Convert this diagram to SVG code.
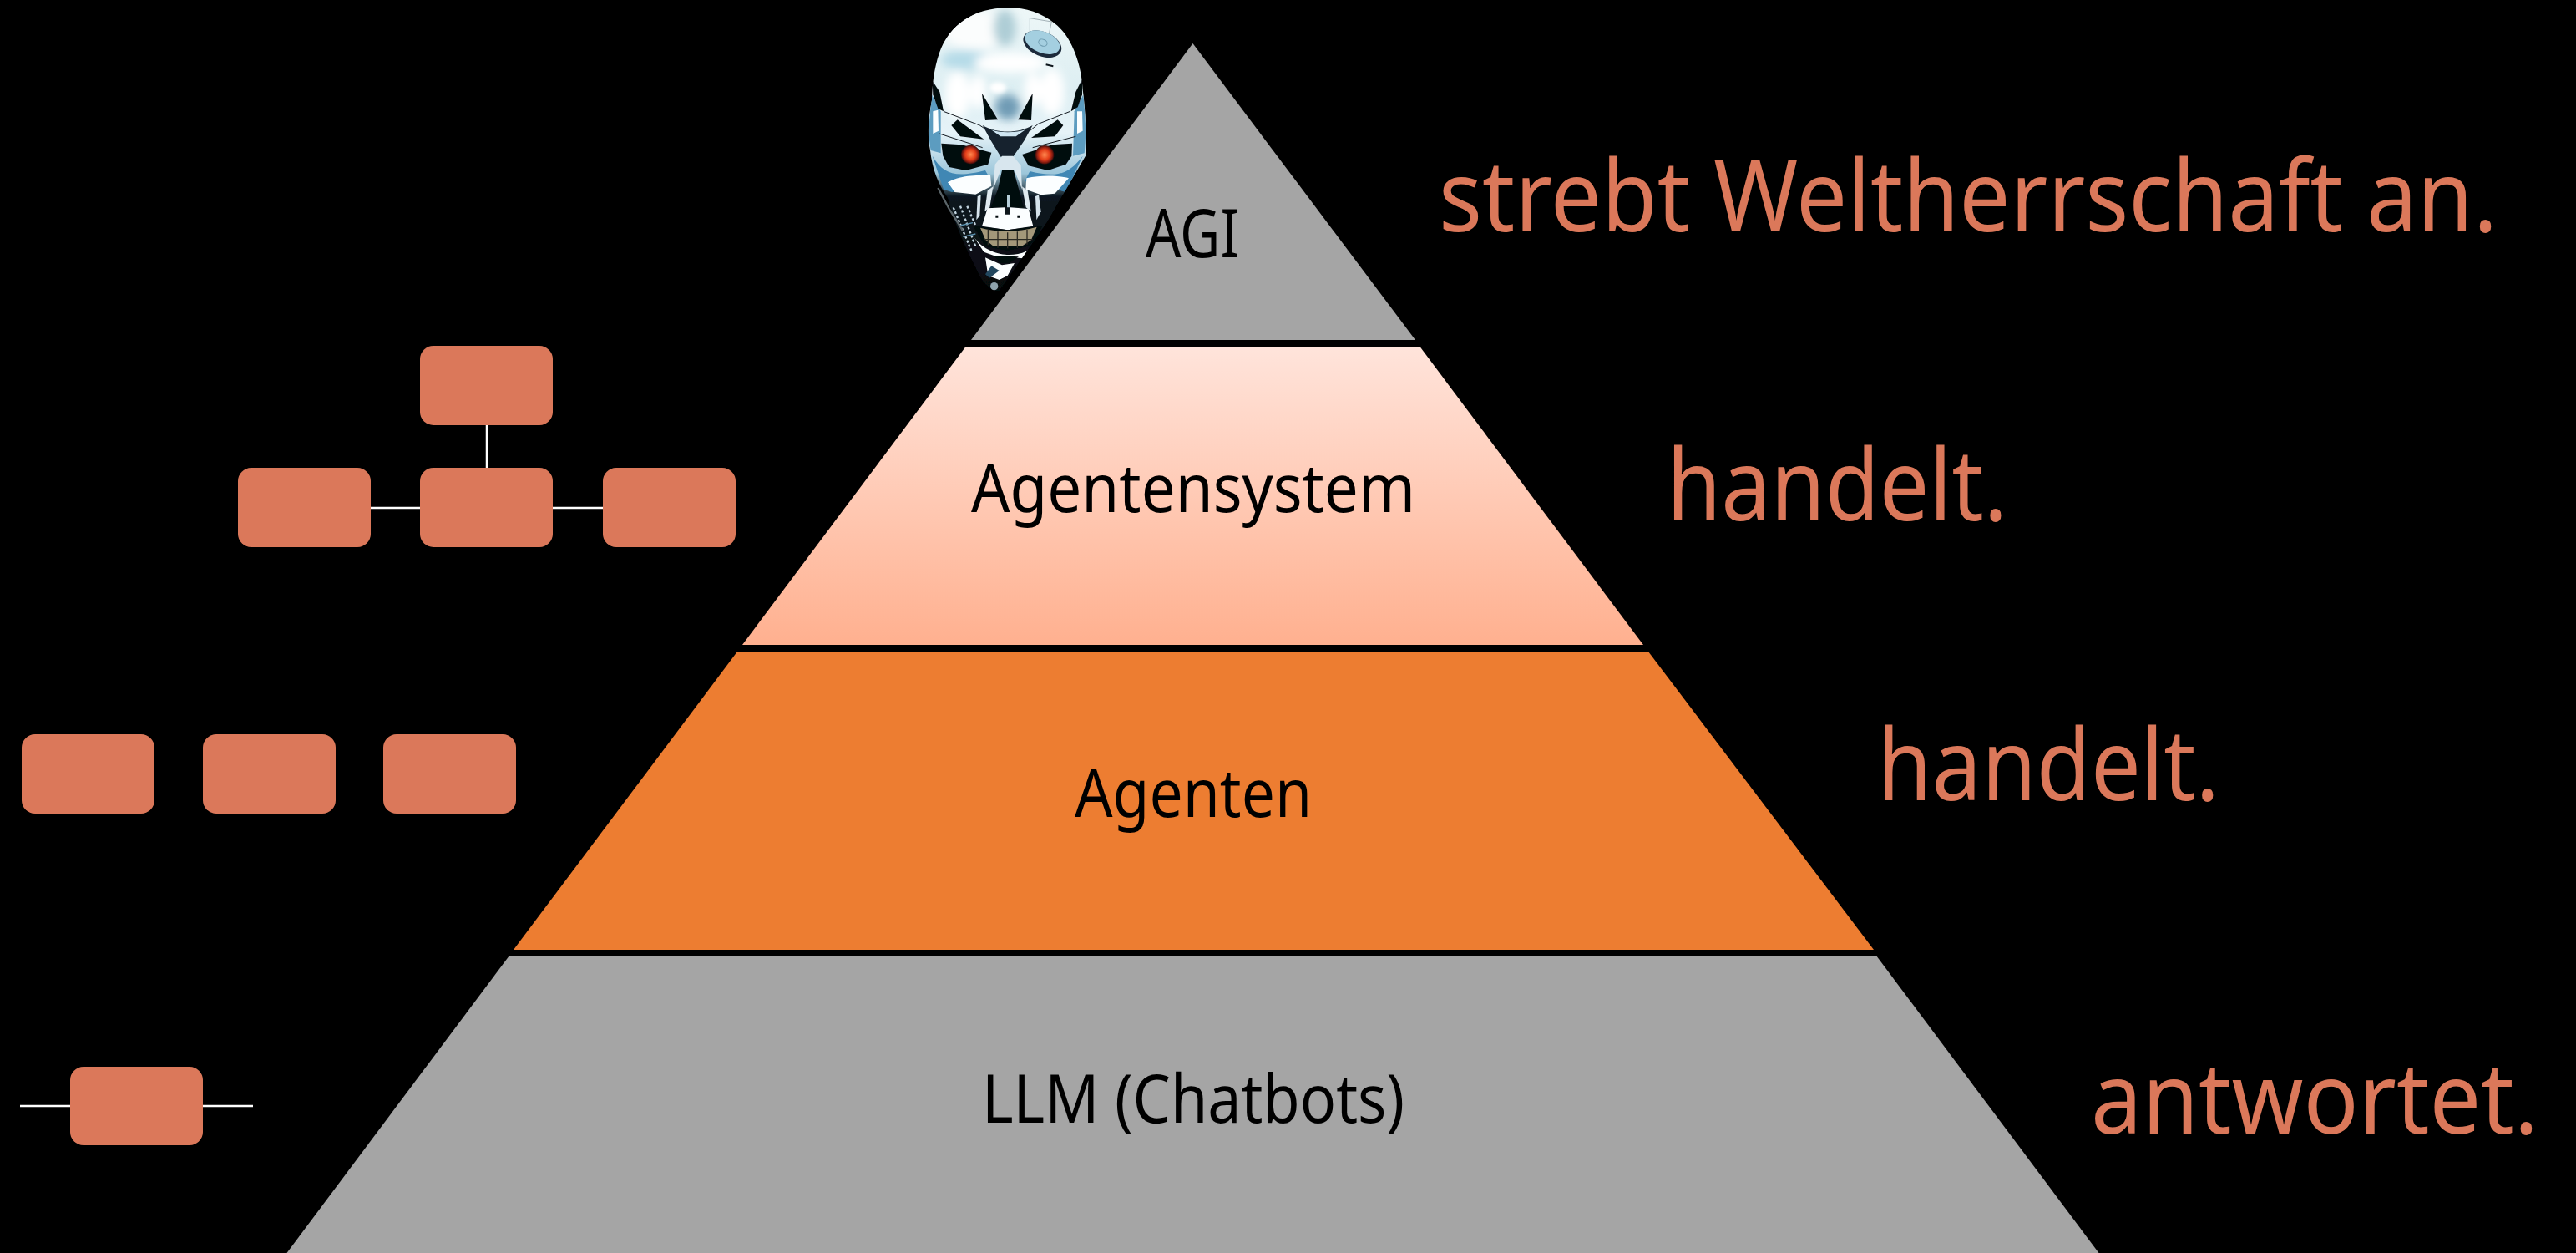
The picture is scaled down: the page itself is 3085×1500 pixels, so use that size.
<svg xmlns="http://www.w3.org/2000/svg" width="3085" height="1500" viewBox="0 0 3085 1500">
<style>
.box{fill:#DB785A}
.lbl{font-family:"Noto Sans","Open Sans",sans-serif;font-size:81px;fill:#000;font-weight:400}
.big{font-family:"Noto Sans","Open Sans",sans-serif;font-size:118px;fill:#DB785A;font-weight:400}
.con{stroke:#fff;stroke-width:2.5;fill:none}
.dk{fill:#05090f}
.wh{fill:#fbfeff}
.bl{fill:#5c9cc0}
.ln{fill:none;stroke:#10161d;stroke-width:3}
</style>
<defs>
<linearGradient id="pk" x1="0" y1="0" x2="0" y2="1"><stop offset="0" stop-color="#FFE4DB"/><stop offset="1" stop-color="#FFB08F"/></linearGradient>
<linearGradient id="head" x1="0" y1="0" x2="0" y2="1"><stop offset="0" stop-color="#eef7f8"/><stop offset=".3" stop-color="#dceef2"/><stop offset=".44" stop-color="#e6f3f8"/><stop offset=".58" stop-color="#9cc6da"/><stop offset=".66" stop-color="#0c1820"/><stop offset="1" stop-color="#060a0e"/></linearGradient>
<radialGradient id="eye"><stop offset="0" stop-color="#ff8a50"/><stop offset=".55" stop-color="#e23c18"/><stop offset=".85" stop-color="#7d1a10"/><stop offset="1" stop-color="#2a0a0a"/></radialGradient>
<filter id="b8" x="-40%" y="-40%" width="180%" height="180%"><feGaussianBlur stdDeviation="8"/></filter>
<filter id="b16" x="-40%" y="-40%" width="180%" height="180%"><feGaussianBlur stdDeviation="16"/></filter>
<filter id="b2" x="-10%" y="-10%" width="120%" height="120%"><feGaussianBlur stdDeviation="2.2"/></filter>
<clipPath id="sk"><path d="M320 28C200 28 110 90 75 190C55 250 50 300 48 360C36 420 30 480 42 540C50 610 70 660 105 710C125 790 160 870 205 960C225 1010 255 1045 290 1045L460 800L600 560C604 480 600 400 590 320C585 230 550 130 490 85C440 45 390 28 320 28Z"/></clipPath>
</defs>
<rect width="3085" height="1500" fill="#000"/>

<g id="skull" transform="translate(1100 0) scale(.33333)">
<g filter="url(#b2)">
<g clip-path="url(#sk)">
<rect x="20" y="20" width="600" height="1040" fill="url(#head)"/>
<g filter="url(#b16)">
<ellipse cx="200" cy="110" rx="110" ry="70" fill="#fbfdfd"/>
<ellipse cx="310" cy="100" rx="40" ry="65" fill="#aecdd6"/>
<ellipse cx="170" cy="215" rx="90" ry="35" fill="#b6dbe8"/>
<ellipse cx="330" cy="225" rx="130" ry="35" fill="#fff"/>
<ellipse cx="140" cy="340" rx="45" ry="85" fill="#fff"/>
<ellipse cx="480" cy="330" rx="45" ry="85" fill="#fff"/>
<ellipse cx="215" cy="330" rx="30" ry="60" fill="#fff"/>
<ellipse cx="410" cy="320" rx="30" ry="60" fill="#fff"/>
<ellipse cx="320" cy="385" rx="45" ry="45" fill="#6f9bb5"/>
</g>
<ellipse cx="285" cy="315" rx="30" ry="20" fill="#fff" filter="url(#b8)"/>
<path class="bl" d="M48 340C40 420 32 480 44 540L80 550L80 400Z"/>
<path class="bl" d="M592 340C600 420 604 480 596 550L555 560L560 400Z"/>
<path class="wh" d="M52 400L70 395L72 470L52 480Z"/>
<path class="wh" d="M570 400L588 400L590 470L570 480Z"/>
<path class="dk" d="M50 290L76 330L90 400L70 390L52 340Z"/>
<path class="dk" d="M590 280L565 330L548 400L572 385L588 340Z"/>
<path class="dk" d="M228 335L285 430L240 432Z"/>
<path class="dk" d="M410 335L358 430L405 432Z"/>
<path class="ln" d="M90 400L220 450L250 470M545 400L430 445L400 470M75 480L230 530M565 490L410 530"/>
<path class="dk" d="M118 450L140 430L235 500L150 490Z"/>
<path class="dk" d="M520 450L500 430L405 495L490 490Z"/>
<path d="M230 450C280 480 360 480 410 450L380 505L335 570H300L260 505Z" fill="#16242f"/>
<path d="M260 465C290 478 350 478 385 465L350 490H295Z" fill="#cfe6f2"/>
<path class="dk" d="M82 515L155 520L262 548L250 590L170 612L110 600L88 560Z"/>
<path class="dk" d="M552 515L480 520L372 555L395 595L465 612L530 590L550 560Z"/>
<circle cx="187" cy="555" r="34" fill="url(#eye)"/>
<circle cx="453" cy="556" r="34" fill="url(#eye)"/>
<path d="M50 560C90 625 130 640 240 612L262 650L120 690L90 680Z" fill="#3f87b4"/>
<path d="M590 560C540 625 500 640 400 615L382 650L530 690Z" fill="#3f87b4"/>
<path class="wh" d="M105 655C160 625 220 632 258 628L262 668L205 698L130 690Z"/>
<path class="wh" d="M388 640C440 628 505 630 540 640L490 695L440 700L385 680Z"/>
<path d="M275 590L300 560L340 560L368 595L372 680L345 612H295L268 680Z" fill="#d8e6ee"/>
<path class="dk" d="M300 612L342 612L355 660L378 745L320 745L258 750L285 680Z"/>
<path d="M318 700h10v45h-10z" fill="#b5cdd8"/>
<path d="M248 685L268 670L256 745L238 760Z" fill="#dfeaf0"/>
<path d="M392 685L372 670L386 745L404 760Z" fill="#dfeaf0"/>
<path d="M212 705L224 700L220 775L208 790Z" fill="#d6e4ec"/>
<path d="M420 705L432 700L440 760L424 790Z" fill="#d6e4ec"/>
<path d="M150 740L205 885M125 745L190 900M175 740L218 840" fill="none" stroke="#c2d4de" stroke-width="7" stroke-dasharray="9 7"/>
<path d="M150 810L195 800M160 850L205 840" stroke="#5b90ae" stroke-width="4" fill="none"/>
<path class="wh" d="M248 748L312 745L312 770L330 770L330 745L395 750L412 812L320 826L228 812Z"/>
<path class="dk" d="M277 773h9v9h-9zM355 773h9v9h-9z"/>
<path class="dk" d="M195 810L320 826L445 810L430 850L395 885L320 900L240 885Z"/>
<path d="M222 818C280 835 360 835 425 815L405 862L370 885H270L240 860Z" fill="#a3987a"/>
<path d="M250 825V880M285 832V890M320 835V892M355 832V890M390 825V878M235 860H410" stroke="#2c2a22" stroke-width="4" fill="none"/>
<path class="wh" d="M195 845C230 900 290 915 325 915C370 915 410 900 435 855L395 930L345 925H290L235 905Z"/>
<path class="dk" d="M270 918L360 922L325 945H295Z"/>
<path class="wh" d="M240 925L285 945L300 952L345 945L320 990L290 1005L250 990Z"/>
<path d="M262 955L290 972L255 998L240 985Z" fill="#23465e"/>
<g transform="rotate(22 445 158)">
<ellipse cx="445" cy="158" rx="72" ry="44" fill="#1a2a3a"/>
<ellipse cx="443" cy="152" rx="66" ry="38" fill="#a4cfe0"/>
<ellipse cx="445" cy="153" rx="16" ry="12" fill="none" stroke="#6e9cb0" stroke-width="3"/>
</g>
<path d="M400 120V65L478 78L470 118" fill="none" stroke="#7f8f97" stroke-width="2"/>
<path d="M458 232L484 238" stroke="#10161d" stroke-width="6"/>
</g>
<ellipse cx="272" cy="1028" rx="14" ry="14" fill="#90a3ad"/>
<path d="M70 675L110 750L160 830" fill="none" stroke="#5a6468" stroke-width="7"/>
</g>
</g>

<g id="connectors">
<path class="con" d="M583 509V560"/>
<path class="con" d="M443 608H503"/>
<path class="con" d="M662 608H722"/>
<path class="con" d="M24 1324H84"/>
<path class="con" d="M243 1324H303"/>
</g>

<g id="layer-agi">
<polygon points="1428.5,52 1695,407 1163,407" fill="#A5A5A5"/>
<text class="lbl" x="1372" y="308" textLength="112" lengthAdjust="spacingAndGlyphs">AGI</text>
</g>
<g id="layer-agentensystem">
<polygon points="1156.5,415 1700.5,415 1968,772 889,772" fill="url(#pk)"/>
<text class="lbl" x="1163" y="613" textLength="532" lengthAdjust="spacingAndGlyphs">Agentensystem</text>
</g>
<g id="layer-agenten">
<polygon points="883,780 1974,780 2244,1137 615,1137" fill="#ED7D31"/>
<text class="lbl" x="1287" y="978" textLength="284" lengthAdjust="spacingAndGlyphs">Agenten</text>
</g>
<g id="layer-llm">
<polygon points="610,1144 2247,1144 2513.5,1500 343.5,1500" fill="#A5A5A5"/>
<text class="lbl" x="1176" y="1344" textLength="506" lengthAdjust="spacingAndGlyphs">LLM (Chatbots)</text>
</g>

<g id="box-sys-top"><rect class="box" x="503" y="414" width="159" height="95" rx="16"/></g>
<g id="box-sys-left"><rect class="box" x="285" y="560" width="159" height="95" rx="16"/></g>
<g id="box-sys-mid"><rect class="box" x="503" y="560" width="159" height="95" rx="16"/></g>
<g id="box-sys-right"><rect class="box" x="722" y="560" width="159" height="95" rx="16"/></g>
<g id="box-ag-1"><rect class="box" x="26" y="879" width="159" height="95" rx="16"/></g>
<g id="box-ag-2"><rect class="box" x="243" y="879" width="159" height="95" rx="16"/></g>
<g id="box-ag-3"><rect class="box" x="459" y="879" width="159" height="95" rx="16"/></g>
<g id="box-llm"><rect class="box" x="84" y="1277" width="159" height="94" rx="16"/></g>

<g id="label-agi"><text class="big" x="1723" y="277" textLength="1268" lengthAdjust="spacingAndGlyphs">strebt Weltherrschaft an.</text></g>
<g id="label-system"><text class="big" x="1996" y="623" textLength="408" lengthAdjust="spacingAndGlyphs">handelt.</text></g>
<g id="label-agenten"><text class="big" x="2248" y="958" textLength="410" lengthAdjust="spacingAndGlyphs">handelt.</text></g>
<g id="label-llm"><text class="big" x="2504" y="1357" textLength="536" lengthAdjust="spacingAndGlyphs">antwortet.</text></g>
</svg>
